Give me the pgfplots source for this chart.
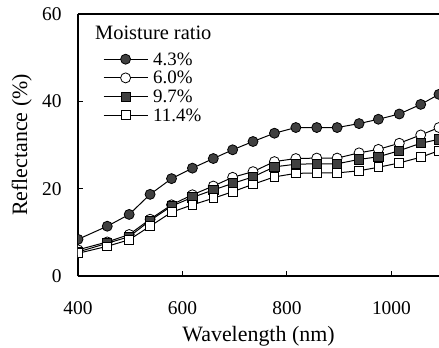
\documentclass[border=0pt]{standalone}
\usepackage{pgfplots}
\usepackage{pgfplotstable}
\pgfplotsset{compat=1.18}
\usepackage{fontspec}
\setmainfont{Liberation Serif}

\pgfplotstableread{
x    a    b    c    d
400  8.4  6.0  5.5  5.2
456  11.4 7.8  7.5  6.8
498  14.1 9.5  9.0  8.3
538  18.7 13.0 12.7 11.4
579  22.3 16.3 16.0 14.6
619  24.7 18.6 18.0 16.3
659  26.9 20.6 19.7 17.8
696  28.9 22.6 21.2 19.3
735  30.8 23.9 22.7 21.0
776  32.7 26.2 25.0 22.7
817  34.0 26.9 25.6 23.5
857  34.0 27.0 25.7 23.6
896  34.0 27.0 25.7 23.6
938  34.9 28.2 26.7 24.1
975  35.9 29.0 27.3 24.9
1015 37.1 30.4 28.7 25.9
1056 39.3 32.3 30.4 27.2
1091 41.6 34.0 31.3 28.7
}\data

\begin{document}
\begin{tikzpicture}
\useasboundingbox (-78bp,-72bp) rectangle (361bp,276bp);
\begin{axis}[
  at={(0,0)}, anchor=south west,
  scale only axis, width=361bp, height=262bp,
  xmin=400, xmax=1091, ymin=0, ymax=60,
  axis x line=box, axis y line=left,
  axis line style={-, line width=1.1bp, black},
  xtick={400,600,800,1000}, ytick={0,20,40,60},
  xtick pos=bottom, ytick pos=left,
  tick align=inside, major tick length=5bp,
  tick style={line width=1bp, black},
  /pgf/number format/assume math mode=true,
  /pgf/number format/1000 sep={},
  tick label style={font=\fontsize{19.5}{19.5}\selectfont},
  xticklabel style={yshift=-22bp},
  yticklabel style={xshift=-13bp},
  xlabel={Wavelength (nm)},
  ylabel={Reflectance (\%)},
  label style={font=\fontsize{22}{22}\selectfont},
  xlabel style={at={(axis description cs:0.5,-0.19)}, anchor=north, inner sep=0pt},
  ylabel style={at={(axis description cs:-0.118,0.5)}, anchor=south},
  clip marker paths=true,
  every axis plot/.append style={black, line width=1bp},
  legend style={at={(axis description cs:0.069,0.855)}, anchor=north west,
    draw=none, fill=none, inner sep=0pt, row sep=4.7bp,
    /tikz/column sep=5bp,
    font=\fontsize{19}{19}\selectfont,
    nodes={inner sep=0pt, text height=13bp, text depth=1bp}},
  legend cell align=left,
  legend image code/.code={\draw[mark repeat=2,mark phase=2] plot coordinates {(0bp,0bp) (22bp,0bp) (44bp,0bp)};},
]
\addplot[mark=*, mark size=5bp, mark options={fill=black!75, draw=black, line width=0.8bp}] table[x=x,y=a] {\data};
\addlegendentry{4.3\%}
\addplot[mark=*, mark size=5bp, mark options={fill=white, draw=black, line width=0.8bp}] table[x=x,y=b] {\data};
\addlegendentry{6.0\%}
\addplot[mark=square*, mark size=4.6bp, mark options={fill=black!75, draw=black, line width=0.8bp}] table[x=x,y=c] {\data};
\addlegendentry{9.7\%}
\addplot[mark=square*, mark size=4.4bp, mark options={fill=white, draw=black, line width=0.8bp}] table[x=x,y=d] {\data};
\addlegendentry{11.4\%}
\node[anchor=north west, inner sep=0pt, font=\fontsize{20.5}{20.5}\selectfont] at (rel axis cs:0.047,0.955) {Moisture ratio};
\end{axis}
\end{tikzpicture}
\end{document}
